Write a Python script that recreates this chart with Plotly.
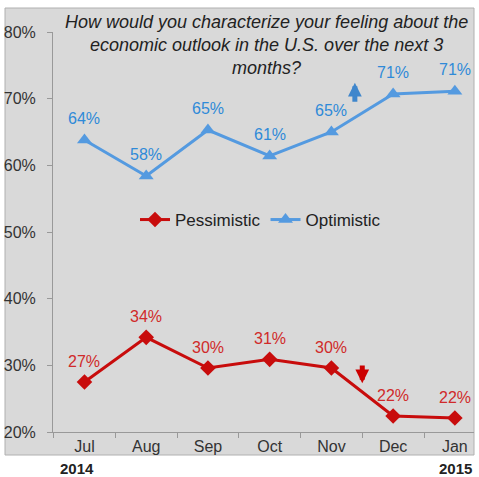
import plotly.graph_objects as go

months = ["Jul", "Aug", "Sep", "Oct", "Nov", "Dec", "Jan"]
optimistic = [63.8, 58.4, 65.3, 61.4, 65.0, 70.7, 71.1]
pessimistic = [27.5, 34.2, 29.6, 30.9, 29.6, 22.4, 22.1]
opt_labels = ["64%", "58%", "65%", "61%", "65%", "71%", "71%"]
pes_labels = ["27%", "34%", "30%", "31%", "30%", "22%", "22%"]
title_lines = ["How would you characterize your feeling about the",
               "economic outlook in the U.S. over the next 3",
               "months?"]

W, H = 479, 477
L, R, T, B = 53, 5, 32, 45
pw, ph = W - L - R, H - T - B

red = "#c80c0c"
blue = "#549ae0"
red_txt = "#d02a2a"
blue_txt = "#2f8ad8"
font = "Liberation Sans, Arial, sans-serif"

fig = go.Figure()
fig.add_trace(go.Scatter(x=months, y=pessimistic, name="Pessimistic", mode="lines+markers",
                         line=dict(color=red, width=3),
                         marker=dict(symbol="diamond", size=12, color=red)))
fig.add_trace(go.Scatter(x=months, y=optimistic, name="Optimistic", mode="lines+markers",
                         line=dict(color=blue, width=3),
                         marker=dict(symbol="triangle-up", size=13, color=blue)))

ann = []
for m, v, t in zip(months, optimistic, opt_labels):
    ann.append(dict(x=m, y=v, text=t, showarrow=False, yshift=22,
                    font=dict(size=16, color=blue_txt, family=font)))
for m, v, t in zip(months, pessimistic, pes_labels):
    ann.append(dict(x=m, y=v, text=t, showarrow=False, yshift=21,
                    font=dict(size=16, color=red_txt, family=font)))

# title lines
for i, line in enumerate(title_lines):
    ann.append(dict(xref="paper", yref="paper", x=(266 - L) / pw, y=(H - B - (22 + 23 * i)) / ph,
                    text="<i>" + line + "</i>", showarrow=False, xanchor="center", yanchor="middle",
                    font=dict(size=18, color="#222222", family=font)))

# years
ann.append(dict(xref="paper", yref="paper", x=(77 - L) / pw, y=(H - B - 468) / ph,
                text="<b>2014</b>", showarrow=False, xanchor="center", yanchor="middle",
                font=dict(size=15, color="#222222", family=font)))
ann.append(dict(xref="paper", yref="paper", x=(455 - L) / pw, y=(H - B - 468) / ph,
                text="<b>2015</b>", showarrow=False, xanchor="center", yanchor="middle",
                font=dict(size=15, color="#222222", family=font)))

# arrows
ann.append(dict(x=4.38, y=72.4, ax=4.38, ay=69.3, xref="x", yref="y", axref="x", ayref="y",
                showarrow=True, arrowhead=2, arrowsize=0.55, arrowwidth=5, arrowcolor="#3f86cc", text=""))
ann.append(dict(x=4.5, y=27.3, ax=4.5, ay=30.2, xref="x", yref="y", axref="x", ayref="y",
                showarrow=True, arrowhead=2, arrowsize=0.55, arrowwidth=5, arrowcolor="#cc0000", text=""))

fig.update_layout(
    width=W, height=H,
    margin=dict(l=L, r=R, t=T, b=B),
    paper_bgcolor="white",
    plot_bgcolor="rgba(0,0,0,0)",
    annotations=ann,
    showlegend=True,
    legend=dict(orientation="h", x=(135 - L) / pw, y=(H - B - 220) / ph, xanchor="left", yanchor="middle",
                bgcolor="rgba(0,0,0,0)", font=dict(size=17, color="#222222", family=font),
                itemwidth=30),
    shapes=[dict(type="rect", xref="paper", yref="paper",
                 x0=(5 - L) / pw, x1=(474 - L) / pw, y0=(H - B - 455) / ph, y1=(H - B - 8) / ph,
                 fillcolor="#d9d9d9", line=dict(color="#b0b0b0", width=1), layer="below")],
    xaxis=dict(range=[-0.51, 6.31], showgrid=False, showline=True, linecolor="#999999", linewidth=1,
               ticks="outside", tickson="boundaries", ticklen=5, tickcolor="#999999",
               tickfont=dict(size=16, color="#333333", family=font), fixedrange=True),
    yaxis=dict(range=[20, 80], dtick=10, ticksuffix="%", showgrid=False, zeroline=False,
               showline=True, linecolor="#999999", linewidth=1, ticks="outside", ticklen=5,
               tickcolor="#999999", ticklabelstandoff=8,
               tickfont=dict(size=16, color="#333333", family=font), fixedrange=True),
)

fig.write_html("out.html")
